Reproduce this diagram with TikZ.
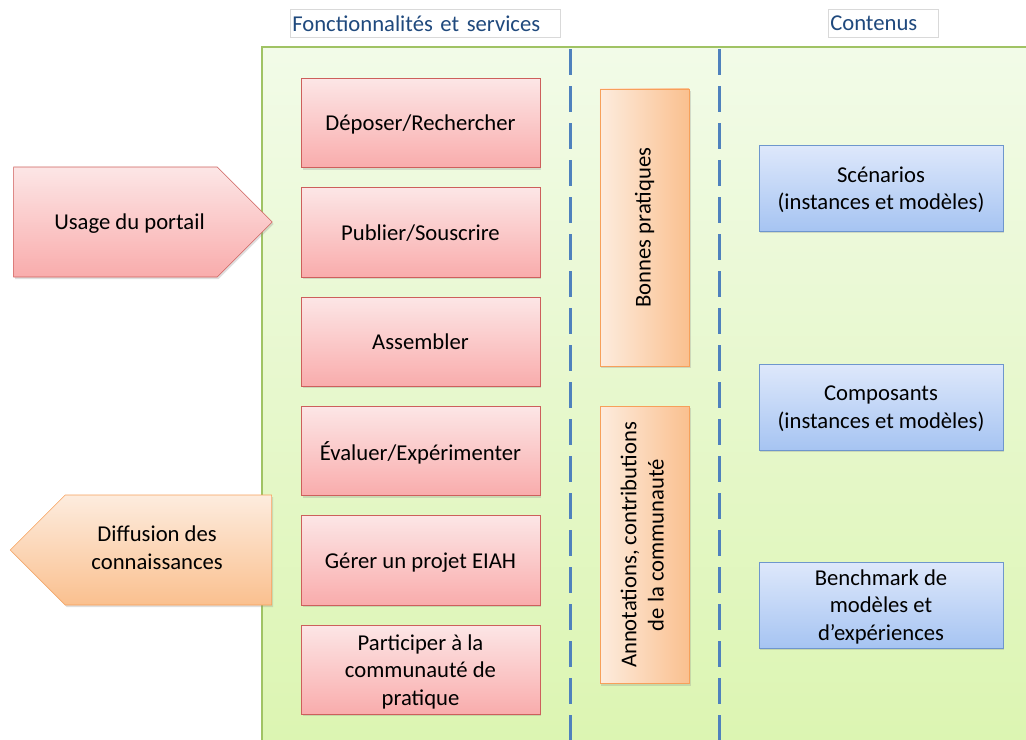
\documentclass[tikz,border=0pt]{standalone}
\usepackage{fontspec}
\setmainfont{Carlito}
\usetikzlibrary{positioning,shapes.symbols,shadows}

\definecolor{titleblue}{RGB}{31,73,125}
\definecolor{redtop}{RGB}{252,230,230}
\definecolor{redbot}{RGB}{249,172,172}
\definecolor{redline}{RGB}{205,95,92}
\definecolor{orleft}{RGB}{253,236,222}
\definecolor{orright}{RGB}{250,192,143}
\definecolor{orline}{RGB}{247,160,90}
\definecolor{bltop}{RGB}{222,232,251}
\definecolor{blbot}{RGB}{166,196,242}
\definecolor{blline}{RGB}{110,150,205}
\definecolor{grtop}{RGB}{242,251,232}
\definecolor{grbot}{RGB}{220,245,178}
\definecolor{grline}{RGB}{160,195,100}
\definecolor{sepblue}{RGB}{79,129,189}

\begin{document}
\begin{tikzpicture}[x=0.75pt, y=-0.75pt, node distance=14.6pt,
    font=\fontsize{17}{20.6}\selectfont,
    shad/.style = {drop shadow={opacity=0.25, shadow xshift=1pt, shadow yshift=-1.5pt}},
    task/.style = {draw=redline, top color=redtop, bottom color=redbot, shad, text depth=0pt,
                   minimum width=179pt, minimum height=67pt, align=center},
    theme/.style = {draw=orline, left color=orleft, right color=orright, shad,
                    minimum width=67pt, minimum height=208pt, align=center},
    content/.style = {draw=blline, top color=bltop, bottom color=blbot, shad, text depth=0pt,
                      minimum width=183pt, minimum height=64.5pt, align=center},
    ttl/.style = {draw=black!15, fill=white, text=titleblue, anchor=north west, text depth=0pt,
                  minimum height=21pt, inner xsep=1.5pt, align=left},
    sep/.style = {draw=sepblue, line width=2.25pt, dash pattern=on 19.5pt off 8.25pt}]
  \useasboundingbox (0,0) rectangle (1026,740);

  % panel
  \fill[top color=grtop, bottom color=grbot] (262,47) rectangle (1026,740);
  \draw[grline, line width=0.8pt] (262,740) -- (262,47) -- (1026,47);

  % column titles
  \node[ttl, text width=199.5pt] (fonct) at (290,9) {Fonctionnalités et services};
  \node[ttl, text width=79.5pt] (cont) at (828,9) {Contenus};

  % separators
  \coordinate (s1t) at (570,49);
  \coordinate (s1b) at (570,740);
  \coordinate (s2t) at (719,49);
  \coordinate (s2b) at (719,740);
  \draw[sep] (s1t) -- (s1b);
  \draw[sep] (s2t) -- (s2b);

  % functions
  \node[task] (depo) at (420.5,123) {Déposer/Rechercher};
  \node[task, below=of depo] (publ) {Publier/Souscrire};
  \node[task, below=of publ] (asse) {Assembler};
  \node[task, below=of asse] (eval) {Évaluer/Expérimenter};
  \node[task, below=of eval] (gere) {Gérer un projet EIAH};
  \node[task, below=of gere] (part) {Participer à la\\communauté de\\pratique};

  % cross-cutting
  \node[theme] (bonn) at (644.5,227.5) {\rotatebox{90}{Bonnes pratiques}};
  \node[theme] (anno) at (644.5,545) {\rotatebox{90}{\begin{tabular}{@{}c@{}}Annotations, contributions\\de la communauté\end{tabular}}};

  % contents
  \node[content] (scen) at (881,188) {Scénarios\\(instances et modèles)};
  \node[content] (comp) at (881,407) {Composants\\(instances et modèles)};
  \node[content] (bench) at (881,605) {Benchmark de\\modèles et\\d’expériences};

  % flows
  \node[signal, signal to=east, signal pointer angle=90, draw=redline,
        top color=redtop, bottom color=redbot, shad, text depth=0pt,
        minimum width=194pt, minimum height=82.5pt] (usage) at (115.5,222) {\hspace*{21pt}Usage du portail};
  \node[signal, signal to=west, signal pointer angle=90, draw=orline,
        top color=orleft, bottom color=orright, shad,
        minimum width=196pt, minimum height=82.5pt] (diff) at (168.5,550)
        {\begin{tabular}{@{}c@{}}Diffusion des\\connaissances\end{tabular}\hspace*{17pt}};
\end{tikzpicture}
\end{document}
